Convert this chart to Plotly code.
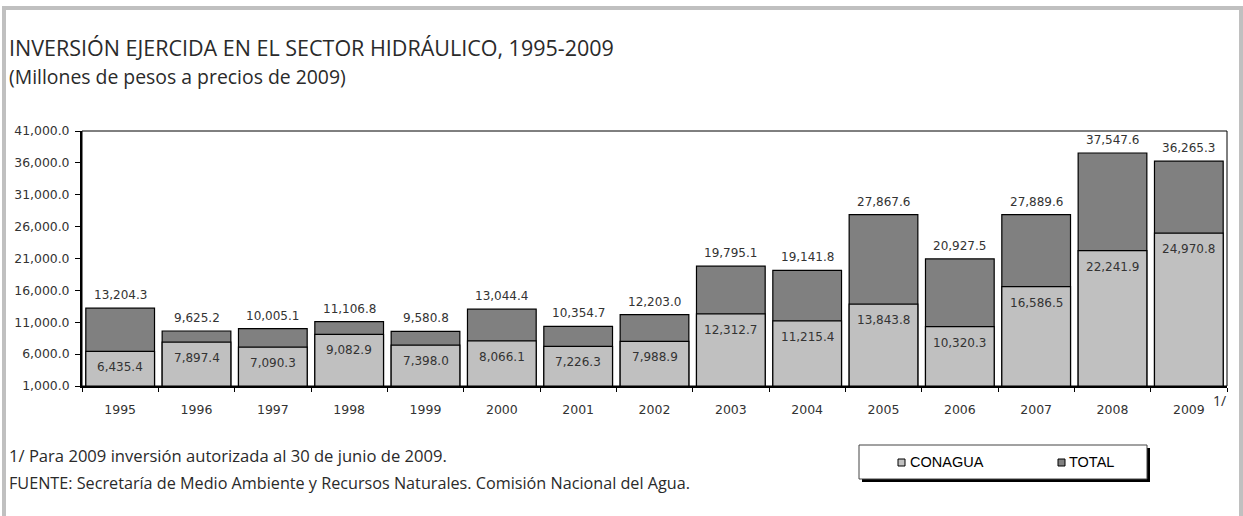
import plotly.graph_objects as go

years = ["1995", "1996", "1997", "1998", "1999", "2000", "2001", "2002",
         "2003", "2004", "2005", "2006", "2007", "2008", "2009"]
conagua = [6435.4, 7897.4, 7090.3, 9082.9, 7398.0, 8066.1, 7226.3, 7988.9,
           12312.7, 11215.4, 13843.8, 10320.3, 16586.5, 22241.9, 24970.8]
total = [13204.3, 9625.2, 10005.1, 11106.8, 9580.8, 13044.4, 10354.7, 12203.0,
         19795.1, 19141.8, 27867.6, 20927.5, 27889.6, 37547.6, 36265.3]

W, H = 1243, 516
L, R, T, B = 82, 1227, 131, 386  # plot area in pixels


def px(x):
    return (x - L) / (R - L)


def py(y):
    return (B - y) / (B - T)


LABEL_FONT = dict(family="DejaVu Sans", size=12, color="#333333")
HUMAN_FONT = "Open Sans"
TEXT_COLOR = "#2a2a2a"

fig = go.Figure()
fig.add_trace(go.Bar(
    x=years, y=total, name="TOTAL", width=0.9,
    marker=dict(color="#808080", line=dict(color="#000000", width=1.2)),
))
fig.add_trace(go.Bar(
    x=years, y=conagua, name="CONAGUA", width=0.9,
    marker=dict(color="#C0C0C0", line=dict(color="#000000", width=1.2)),
))

annotations = []
# value labels anchored to the data values (category index on x)
for i, v in enumerate(total):
    annotations.append(dict(x=i, y=v, xref="x", yref="y", text=f"{v:,.1f}",
                            yanchor="middle", yshift=13, showarrow=False,
                            font=LABEL_FONT))
for i, v in enumerate(conagua):
    annotations.append(dict(x=i, y=v, xref="x", yref="y", text=f"{v:,.1f}",
                            yanchor="middle", yshift=-16, showarrow=False,
                            font=LABEL_FONT))

shapes = []
# outer gray frame
shapes.append(dict(type="rect", xref="paper", yref="paper",
                   x0=px(4), x1=px(1241), y0=py(540), y1=py(8),
                   line=dict(color="#C0C0C0", width=4), layer="below"))
# plot frame
shapes.append(dict(type="rect", xref="paper", yref="paper",
                   x0=0, x1=1, y0=0, y1=1,
                   line=dict(color="#000000", width=1)))
# legend shadow + box
shapes.append(dict(type="rect", xref="paper", yref="paper",
                   x0=px(862), x1=px(1150), y0=py(482), y1=py(448),
                   fillcolor="#000000", line=dict(width=0)))
shapes.append(dict(type="rect", xref="paper", yref="paper",
                   x0=px(859), x1=px(1147), y0=py(479), y1=py(445),
                   fillcolor="#FFFFFF", line=dict(color="#444444", width=1)))
shapes.append(dict(type="rect", xref="paper", yref="paper",
                   x0=px(898), x1=px(905), y0=py(466), y1=py(459),
                   fillcolor="#C0C0C0", line=dict(color="#000000", width=1)))
shapes.append(dict(type="rect", xref="paper", yref="paper",
                   x0=px(1058), x1=px(1065), y0=py(466), y1=py(459),
                   fillcolor="#808080", line=dict(color="#000000", width=1)))

texts = [
    dict(text="INVERSIÓN EJERCIDA EN EL SECTOR HIDRÁULICO, 1995-2009",
         x=px(7), y=py(47), font=dict(family=HUMAN_FONT, size=21.5, color=TEXT_COLOR)),
    dict(text="(Millones de pesos a precios de 2009)",
         x=px(7), y=py(76), font=dict(family=HUMAN_FONT, size=19.4, color=TEXT_COLOR)),
    dict(text="1/ Para 2009 inversión autorizada al 30 de junio de 2009.",
         x=px(7), y=py(455), font=dict(family=HUMAN_FONT, size=16.6, color=TEXT_COLOR)),
    dict(text="FUENTE: Secretaría de Medio Ambiente y Recursos Naturales. Comisión Nacional del Agua.",
         x=px(7), y=py(483), font=dict(family=HUMAN_FONT, size=16.2, color=TEXT_COLOR)),
    dict(text="1/", x=px(1211), y=py(400), font=dict(family=HUMAN_FONT, size=14, color=TEXT_COLOR)),
    dict(text="CONAGUA", x=px(908), y=py(462), font=dict(family="Liberation Sans", size=14.5, color="#000000")),
    dict(text="TOTAL", x=px(1067), y=py(462), font=dict(family="Liberation Sans", size=14.5, color="#000000")),
]
for a in texts:
    a.update(xref="paper", yref="paper", showarrow=False, xanchor="left", yanchor="middle")
annotations.extend(texts)

fig.update_layout(
    template="none",
    width=W, height=H,
    margin=dict(l=L, r=W - R, t=T, b=H - B, autoexpand=False),
    barmode="overlay", bargap=0.1,
    showlegend=False,
    paper_bgcolor="white", plot_bgcolor="white",
    shapes=shapes, annotations=annotations,
    xaxis=dict(type="category", range=[-0.5, len(years) - 0.5],
               showgrid=False, showline=True,
               linecolor="#000000", linewidth=1.5,
               ticks="outside", tickson="boundaries", ticklen=4,
               tickcolor="#000000", tickwidth=1,
               tickfont=dict(family="DejaVu Sans", size=12.5, color="#333333"),
               ticklabelstandoff=11, automargin=False),
    yaxis=dict(range=[1000, 41000], tick0=1000, dtick=5000,
               tickformat=",.1f", showgrid=False, zeroline=False,
               showline=True, linecolor="#000000", linewidth=2,
               ticks="outside", ticklen=5, tickcolor="#000000", tickwidth=1,
               tickfont=dict(family="DejaVu Sans", size=12.4, color="#333333"),
               ticklabelstandoff=3, automargin=False),
)

fig.write_html("out.html", config={"displayModeBar": False},
               post_script="document.body.style.margin='0';")
